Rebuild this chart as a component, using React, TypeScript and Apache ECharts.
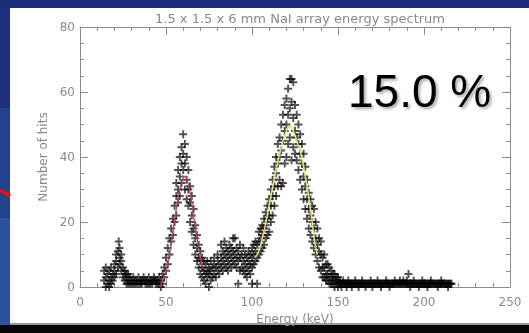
import React, { useEffect, useRef } from "react";
import * as echarts from "echarts";

const TITLE = "1.5 x 1.5 x 6 mm NaI array energy spectrum";
const X_NAME = "Energy (keV)";
const Y_NAME = "Number of hits";
const RESOLUTION_LABEL = "15.0 %";

const lowEnergyHits: [number, number][] = [
  [14,2],[14,5],[15,0],[15,3],[15,6],[16,1],[16,4],[17,0],[17,2],[17,5],[18,1],[18,3],[18,6],[19,2],[19,4],
  [20,3],[20,5],[20,7],[21,4],[21,8],[21,10],[22,6],[22,11],[22.5,14],[23,9],[23,12],[23,7],[24,5],[24,10],[24,8],
  [25,3],[25,6],[26,2],[26,4],[26,5],[27,1],[27,3],[27,4],[28,1],[28,2],[28,4],[29,1],[29,3],[30,1],[30,2],
  [31,1],[31,3],[32,1],[32,2],[33,1],[33,2],[34,1],[34,3],[35,1],[35,2],[36,1],[36,2],[37,2],[37,3],[38,1],
  [38,2],[39,1],[39,2],[40,1],[40,3],[41,1],[41,2],[42,1],[42,2],[43,2],[43,3],[44,1],[44,2],[45,1],[45,2],[46,1],[46,3],
];

const firstPeakHits: [number, number][] = [
  [47,0],[47,2],[48,1],[48,4],[49,3],[49,6],[50,5],[50,9],[51,7],[51,12],[52,10],[52,15],[53,14],[53,18],
  [54,16],[54,21],[55,20],[55,25],[56,22],[56,28],[56,32],[57,26],[57,30],[57,36],[58,28],[58,34],[58,40],
  [59,32],[59,38],[59,43],[60,36],[60,41],[60,47],[61,30],[61,38],[61,44],[62,27],[62,33],[62,40],
  [63,25],[63,30],[63,36],[64,20],[64,26],[64,31],[65,17],[65,22],[65,28],[66,13],[66,18],[66,24],
  [67,10],[67,15],[67,19],[68,8],[68,12],[68,16],[69,6],[69,9],[69,13],[70,4],[70,8],[70,11],
];

const valleyHits: [number, number][] = [
  [71,3],[71,6],[71,9],[72,2],[72,5],[72,8],[73,1],[73,4],[73,7],[74,3],[74,5],[74,8],[75,0],[75,4],[75,6],
  [76,2],[76,5],[76,8],[77,3],[77,6],[78,4],[78,7],[78,9],[79,3],[79,6],[80,5],[80,8],[80,10],[81,4],[81,7],
  [82,6],[82,9],[82,13],[83,5],[83,8],[83,11],[84,7],[84,10],[84,14],[85,6],[85,9],[85,12],[86,5],[86,8],[86,11],
  [87,7],[87,10],[87,13],[88,6],[88,9],[88,12],[89,8],[89,11],[89,15],[90,7],[90,10],[90,15],[91,6],[91,9],[91,12],
  [92,1],[92,8],[92,11],[93,5],[93,9],[93,13],[94,6],[94,10],[95,5],[95,8],[95,12],[96,4],[96,7],[96,10],
  [97,3],[97,6],[97,9],[98,5],[98,8],[98,11],[99,4],[99,7],[99,10],[100,1],[100,6],[100,9],[100,12],
];

const secondPeakHits: [number, number][] = [
  [101,7],[101,10],[101,13],[102,8],[102,11],[102,14],[103,1],[103,9],[103,13],[104,10],[104,14],[104,17],
  [105,11],[105,15],[105,18],[106,12],[106,16],[106,19],[107,13],[107,18],[107,21],[108,15],[108,19],[108,23],
  [109,16],[109,21],[109,25],[110,17],[110,22],[110,27],[111,20],[111,25],[111,30],[112,22],[112,28],[112,33],
  [113,25],[113,31],[113,37],[114,28],[114,35],[114,40],[115,31],[115,38],[115,44],[116,33],[116,40],[116,46],
  [117,31],[117,42],[117,50],[118,32],[118,45],[118,53],[119,38],[119,48],[119,56],[120,40],[120,50],[120,58],
  [121,44],[121,53],[121,61],[122,46],[122,55],[122,64],[123,39],[123,57],[123,64],[124,43],[124,52],[124,63],
  [125,41],[125,48],[125,56],[126,39],[126,46],[126,53],[127,36],[127,44],[127,50],[128,33],[128,41],[128,47],
  [129,30],[129,38],[129,44],[130,27],[130,34],[130,41],[131,24],[131,31],[131,37],[132,21],[132,27],[132,33],
  [133,18],[133,24],[133,29],[134,16],[134,22],[134,27],[135,14],[135,20],[135,25],[136,12],[136,18],[136,24],
  [137,10],[137,15],[137,20],[138,8],[138,13],[138,18],[139,6],[139,11],[139,15],[140,5],[140,10],[140,14],
];

const tailHits: [number, number][] = [
  [141,3],[141,6],[141,9],[142,3],[142,6],[142,10],[143,2],[143,4],[143,7],[144,2],[144,4],[144,7],
  [145,1],[145,3],[145,6],[146,1],[146,3],[146,5],[147,1],[147,2],[147,4],[148,0],[148,2],[148,4],
  [149,1],[149,2],[149,3],[150,0],[150,1],[150,3],
  [151,1],[151,2],[152,0],[152,1],[153,1],[153,2],[154,1],[155,0],[155,1],[156,1],[156,2],[157,1],[158,0],[158,1],
  [159,1],[160,1],[160,2],[161,1],[162,0],[162,1],[163,1],[164,1],[164,2],[165,1],[166,0],[166,1],[167,1],[168,1],
  [169,1],[169,2],[170,0],[170,1],[171,1],[172,1],[173,1],[173,2],[174,1],[175,0],[175,1],[176,1],[177,1],[178,1],
  [178,2],[179,1],[180,0],[180,1],[181,1],[182,1],[183,1],[183,2],[184,1],[185,1],[186,1],[186,2],[187,1],[188,1],
  [188,2],[189,1],[190,1],[190,2],[191,4],[191,1],[192,0],[192,1],[193,1],[194,1],[194,2],[195,1],[196,1],[197,0],
  [197,1],[198,1],[199,1],[199,2],[200,1],[201,1],[202,0],[202,1],[203,1],[204,1],[204,2],[205,1],[206,1],[207,1],
  [208,0],[208,1],[209,1],[210,1],[210,2],[211,1],[212,1],[213,1],[214,0],[214,1],[215,1],[216,1],
];

const tailBandHits: [number, number][] = [
  [150.5,1],[151.5,1],[152.5,1],[153.5,1],[154.5,1],[155.5,1],[156.5,1],[157.5,1],[158.5,1],[159.5,1],
  [160.5,1],[161.5,1],[162.5,1],[163.5,1],[164.5,1],[165.5,1],[166.5,1],[167.5,1],[168.5,1],[169.5,1],
  [170.5,1],[171.5,1],[172.5,1],[173.5,1],[174.5,1],[175.5,1],[176.5,1],[177.5,1],[178.5,1],[179.5,1],
  [180.5,1],[181.5,1],[182.5,1],[183.5,1],[184.5,1],[185.5,1],[186.5,1],[187.5,1],[188.5,1],[189.5,1],
  [190.5,1],[191.5,1],[192.5,1],[193.5,1],[194.5,1],[195.5,1],[196.5,1],[197.5,1],[198.5,1],[199.5,1],
  [200.5,1],[201.5,1],[202.5,1],[203.5,1],[204.5,1],[205.5,1],[206.5,1],[207.5,1],[208.5,1],[209.5,1],
  [210.5,1],[211.5,1],[212.5,1],[213.5,1],[214.5,1],[215.5,1],
];

const firstPeakFit: [number, number][] = [
  [46.5,0],[48,2],[50,5],[52,10],[54,17],[56,24],[58,30],[60,33.5],[61,34],[62,33.5],[64,29],[66,22],[68,15],[70,9],[71.5,6],
];

const secondPeakFit: [number, number][] = [
  [101.5,9],[104,11],[106,15],[108.5,21],[111,28],[114,36],[117,43],[120,48],[122,49.5],[124,48],[126,45],
  [128,42],[130,37],[132,31],[134,24],[135.5,18],[137,12],[138,10],
];

const X_MIN = 0, X_MAX = 250, X_INTERVAL = 50;
const Y_MIN = 0, Y_MAX = 80, Y_INTERVAL = 20;

const PLUS = "path://M3.8,0H6.2V3.8H10V6.2H6.2V10H3.8V6.2H0V3.8H3.8Z";
const AXIS_GRAY = "#8c8c8c";
const LABEL_GRAY = "#8a8a8a";
const FONT = "DejaVu Sans";
const PAPER = "#ffffff";

export default function App() {
  const ref = useRef<HTMLDivElement>(null);
  useEffect(() => {
    if (!ref.current) return;
    const chart = echarts.init(ref.current, undefined, { renderer: "svg" });
    const allHits = [...lowEnergyHits, ...firstPeakHits, ...valleyHits, ...secondPeakHits, ...tailHits, ...tailBandHits];
    const axisCommon = {
      type: "value" as const,
      axisLine: { show: true, onZero: false, lineStyle: { color: AXIS_GRAY, width: 1 } },
      axisTick: { show: true, inside: true, length: 8, lineStyle: { color: AXIS_GRAY } },
      minorTick: { show: true, length: 4, lineStyle: { color: AXIS_GRAY } },
      splitLine: { show: false },
    };
    chart.setOption({
      animation: false,
      graphic: [
        { type: "rect", z: -5, silent: true, shape: { x: 10, y: 8, width: 519, height: 315 }, style: { fill: PAPER } },
        { type: "rect", z: 0, silent: true, shape: { x: 0, y: 0, width: 529, height: 8 }, style: { fill: "#1d2b7c" } },
        { type: "rect", z: 0, silent: true, shape: { x: 0, y: 8, width: 10, height: 100 }, style: { fill: "#1c2f80" } },
        { type: "rect", z: 0, silent: true, shape: { x: 0, y: 108, width: 10, height: 110 }, style: { fill: "#22428d" } },
        { type: "rect", z: 0, silent: true, shape: { x: 0, y: 218, width: 10, height: 107 }, style: { fill: "#2a539c" } },
        { type: "rect", z: 0, silent: true, shape: { x: 10, y: 323, width: 519, height: 2 }, style: { fill: "#9a9a9a" } },
        { type: "rect", z: 0, silent: true, shape: { x: 0, y: 325, width: 529, height: 8 }, style: { fill: "#050505" } },
        { type: "line", z: 5, silent: true, shape: { x1: 0, y1: 190, x2: 10, y2: 196 }, style: { stroke: "#e01010", lineWidth: 4 } },
        {
          type: "text", z: 100, silent: true, x: 348, y: 91,
          style: {
            text: RESOLUTION_LABEL, fill: "#000000", font: "46px 'Liberation Sans', Arial, sans-serif",
            align: "left", verticalAlign: "middle",
            textShadowColor: "rgba(0,0,0,0.35)", textShadowBlur: 3, textShadowOffsetX: 2, textShadowOffsetY: 2,
          },
        },
      ],
      title: {
        text: TITLE, left: 295, top: 7, textAlign: "center",
        textStyle: { color: LABEL_GRAY, fontFamily: FONT, fontSize: 13, fontWeight: "normal" },
      },
      grid: { left: 80, right: 19, top: 27, bottom: 46 },
      xAxis: [
        {
          ...axisCommon, position: "bottom", min: X_MIN, max: X_MAX, interval: X_INTERVAL,
          minorTick: { ...axisCommon.minorTick, splitNumber: 5 },
          axisLabel: { color: LABEL_GRAY, fontFamily: FONT, fontSize: 12, margin: 9 },
          name: X_NAME, nameLocation: "middle", nameGap: 25,
          nameTextStyle: { color: LABEL_GRAY, fontFamily: FONT, fontSize: 12 },
        },
        {
          ...axisCommon, position: "top", min: X_MIN, max: X_MAX, interval: X_INTERVAL,
          minorTick: { ...axisCommon.minorTick, splitNumber: 5 },
          axisLabel: { show: false },
        },
      ],
      yAxis: [
        {
          ...axisCommon, position: "left", min: Y_MIN, max: Y_MAX, interval: Y_INTERVAL,
          minorTick: { ...axisCommon.minorTick, splitNumber: 4 },
          axisLabel: { color: LABEL_GRAY, fontFamily: FONT, fontSize: 12, margin: 5 },
          name: Y_NAME, nameLocation: "middle", nameGap: 28,
          nameTextStyle: { color: LABEL_GRAY, fontFamily: FONT, fontSize: 12 },
        },
        {
          ...axisCommon, position: "right", min: Y_MIN, max: Y_MAX, interval: Y_INTERVAL,
          minorTick: { ...axisCommon.minorTick, splitNumber: 4 },
          axisLabel: { show: false },
        },
      ],
      series: [
        {
          type: "scatter", xAxisIndex: 0, yAxisIndex: 0, data: allHits,
          symbol: PLUS, symbolSize: 8, itemStyle: { color: "rgba(0,0,0,0.85)" }, z: 3,
        },
        {
          type: "line", xAxisIndex: 0, yAxisIndex: 0, data: firstPeakFit, smooth: true, showSymbol: false,
          lineStyle: { color: "#b8475f", width: 1.3 }, z: 4,
        },
        {
          type: "line", xAxisIndex: 0, yAxisIndex: 0, data: secondPeakFit, smooth: true, showSymbol: false,
          lineStyle: { color: "#dfe36a", width: 1.5 }, z: 4,
        },
      ],
    });
    return () => chart.dispose();
  }, []);
  return <div ref={ref} style={{ position: "fixed", left: 0, top: 0, width: 529, height: 333 }} />;
}
